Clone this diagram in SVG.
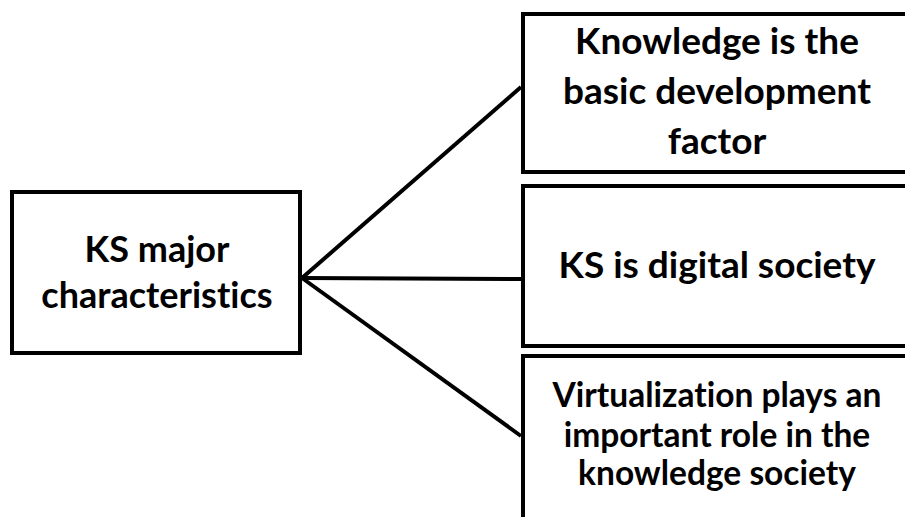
<svg xmlns="http://www.w3.org/2000/svg" width="905" height="517" viewBox="0 0 905 517">
<style>
.box{fill:#fff;stroke:#000;stroke-width:4}
.t{font-family:Lato,"Open Sans","Liberation Sans",sans-serif;font-weight:bold;fill:#000;text-anchor:middle;font-variant-ligatures:none}
.big{font-size:37px}
.mid{font-size:36px}
.sm{font-size:33.5px}
.conn{stroke:#000;stroke-width:4;fill:none}
</style>
<rect width="905" height="517" fill="#fff"/>
<g id="connectors">
<line class="conn" x1="302" y1="278" x2="521" y2="87"/>
<line class="conn" x1="302" y1="278" x2="521" y2="279"/>
<line class="conn" x1="302" y1="278" x2="521" y2="436"/>
</g>
<g id="root">
<rect class="box" x="12" y="192" width="288" height="161"/>
<text class="t mid" x="157" y="262">KS major</text>
<text class="t mid" x="157" y="308">characteristics</text>
</g>
<g id="n1">
<rect class="box" x="523" y="14" width="400" height="158"/>
<text class="t big" x="717" y="54">Knowledge is the</text>
<text class="t big" x="717" y="104">basic development</text>
<text class="t big" x="717" y="154">factor</text>
</g>
<g id="n2">
<rect class="box" x="523" y="186" width="400" height="160"/>
<text class="t big" x="717" y="278">KS is digital society</text>
</g>
<g id="n3">
<rect class="box" x="523" y="356" width="400" height="200"/>
<text class="t sm" x="717" y="407">Virtualization plays an</text>
<text class="t sm" x="717" y="447">important role in the</text>
<text class="t sm" x="717" y="485">knowledge society</text>
</g>
</svg>
